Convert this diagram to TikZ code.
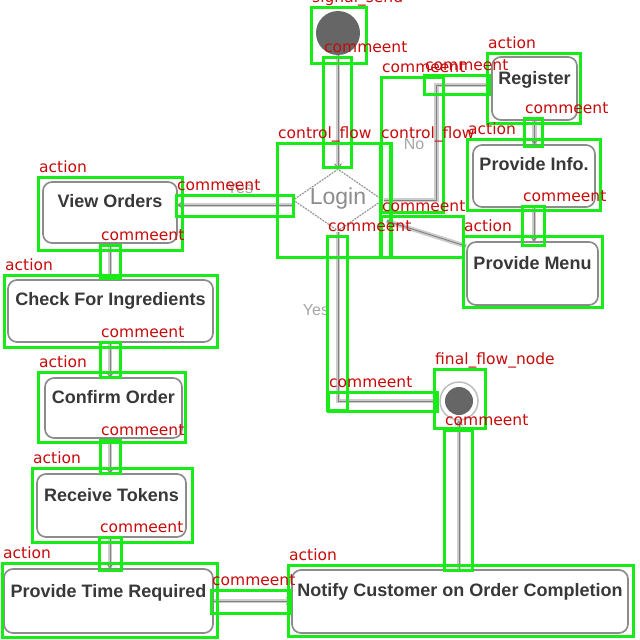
\documentclass[tikz,border=0pt]{standalone}
\usepackage{fontspec}
\setmainfont{Liberation Sans}
\newfontfamily\lblfont{DejaVu Sans}
\usetikzlibrary{arrows.meta,shapes.geometric,calc}
\definecolor{anngreen}{RGB}{25,235,25}
\definecolor{annred}{RGB}{200,10,10}
\begin{document}
\begin{tikzpicture}[x=1pt,y=-1pt,
  act/.style={draw=black!45, line width=1.7pt, rounded corners=9pt, fill=white, inner sep=0pt,
    font=\fontsize{18}{20}\selectfont\bfseries, text=black!78},
  conn/.style={draw=black!50, line width=0.9pt, -{Straight Barb[length=4pt,width=7pt]},
    preaction={draw=black!20, line width=4.5pt, arrows=-}},
  ann/.style={draw=anngreen, line width=3pt},
  lbl/.style={anchor=base west, inner sep=0pt, text=annred, font=\lblfont\fontsize{15.5}{17}\selectfont},
  faint/.style={inner sep=0pt, text=black!35, font=\fontsize{16}{18}\selectfont}
]
\fill[white] (0,0) rectangle (640,640);
\useasboundingbox (0,0) rectangle (640,640);

% ---------- diagram ----------
\node[circle, fill=black!60, minimum size=44pt, inner sep=0pt] (init) at (338,33) {};
\node[diamond, draw=black!40, line width=1.2pt, dash pattern=on 2pt off 1pt,
      minimum width=90pt, minimum height=62pt, inner sep=0pt, fill=white] (login) at (338,200) {};
\node[inner sep=0pt, text=black!45, font=\fontsize{23}{25}\selectfont] (logintxt) at (338,199) {Login};

\node[act, minimum width=85pt,  text height=27pt, text depth=36pt] (reg)     at (534.5,88.5) {Register};
\node[act, minimum width=122pt, text height=25pt, text depth=37pt] (info)    at (534,176)    {Provide Info.};
\node[act, minimum width=131pt, text height=27pt, text depth=36pt] (menu)    at (532.5,273.5){Provide Menu};
\node[act, minimum width=134pt, text height=25pt, text depth=36pt] (view)    at (110,212.5)  {View Orders};
\node[act, minimum width=205pt, text height=25pt, text depth=37pt] (check)   at (110.5,311)  {Check For Ingredients};
\node[act, minimum width=137pt, text height=25pt, text depth=35pt] (confirm) at (113.5,408)  {Confirm Order};
\node[act, minimum width=149pt, text height=27pt, text depth=36pt] (receive) at (111.5,505.5){Receive Tokens};
\node[act, minimum width=209pt, text height=28pt, text depth=36pt] (ptime)   at (108.5,601)  {Provide Time Required};
\node[act, minimum width=336pt, text height=26pt, text depth=37pt] (notify)  at (460,601.5)  {Notify Customer on Order Completion};

\node[circle, draw=black!25, line width=1.5pt, minimum size=38pt, inner sep=0pt, fill=white] (final) at (459,401) {};
\node[circle, fill=black!60, minimum size=28pt, inner sep=0pt] (finalin) at (final) {};

\node[faint] (notxt) at (414,144) {No};
\node[faint] (yestxt1) at (240,188) {Yes};
\node[faint] (yestxt2) at (316,310) {Yes};

\coordinate (yl) at ([yshift=-5pt]login.west);
\coordinate (regin) at ([yshift=3.5pt]reg.west);
\coordinate (menustart) at ([yshift=-5pt]menu.north west);
\coordinate (loginhit) at ($(login.east)+(3,21)$);

\draw[conn] (init) -- (login);
\draw[conn] (yl) -- (yl -| view.east);
\draw[conn] (login.east) -- ++(53,0) |- (regin);
\draw[conn] (reg.south) -- (reg.south |- info.north);
\draw[conn] (info.south) -- (info.south |- menu.north);
\draw[conn] (menustart) -- (loginhit);
\draw[conn] (view.south) -- (view.south |- check.north);
\draw[conn] (check.south -| view.south) -- (confirm.north -| view.south);
\draw[conn] (confirm.south -| view.south) -- (receive.north -| view.south);
\draw[conn] (receive.south -| view.south) -- (ptime.north -| view.south);
\draw[conn] (ptime.east) -- (ptime.east -| notify.west);
\draw[conn] (notify.north -| final.south) -- (final.south);
\draw[conn] (login.south) |- (final.west);

% ---------- annotations ----------
\def\annlist{311/7/366/63/signal\_send,
  323/57/351/167/commeent,
  277/143/390/257/control\_flow,
  380/143/391/257/control\_flow,
  381/77/443/212/commeent,
  424/75/489/94/commeent,
  487/53/580/123/action,
  524/118/542/146/commeent,
  467/139/600/210/action,
  522/206/544/245/commeent,
  463/236/602/307/action,
  381/216/463/257/commeent,
  176/195/293/216/commeent,
  38/177/182/250/action,
  100/245/120/278/commeent,
  4/275/217/347/action,
  100/342/120/377/commeent,
  38/372/185/442/action,
  100/440/120/473/commeent,
  32/468/192/542/action,
  99/537/121/570/commeent,
  2/563/217/637/action,
  211/590/290/613/commeent,
  288/565/633/636/action,
  444/430/472/570/commeent,
  434/369/485/428/final\_flow\_node,
  327/236/347/410/commeent,
  328/392/437/411/commeent}
\foreach \xa/\ya/\xb/\yb/\txt in \annlist {
  \draw[ann] (\xa,\ya) rectangle (\xb,\yb);
}
\foreach \xa/\ya/\xb/\yb/\txt in \annlist {
  \node[lbl] at (\xa+1,\ya-5) {\txt};
}
\end{tikzpicture}
\end{document}
